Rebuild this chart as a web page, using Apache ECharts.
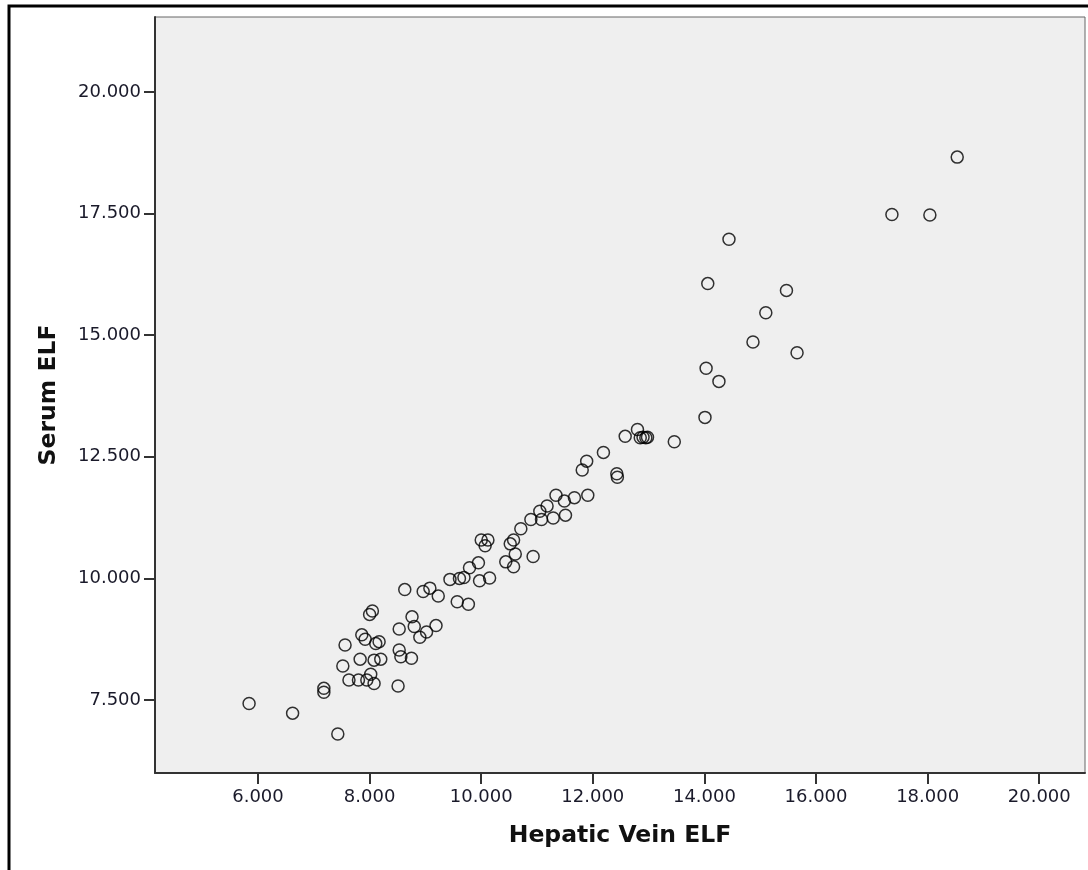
<!DOCTYPE html>
<html>
<head>
<meta charset="utf-8">
<title>Serum ELF vs Hepatic Vein ELF</title>
<script src="https://cdn.jsdelivr.net/npm/echarts@6.0.0/dist/echarts.min.js"></script>
<style>
  html, body { margin: 0; padding: 0; background: #fff; overflow: hidden; }
  #chart { width: 1088px; height: 870px; }
</style>
</head>
<body>
<div id="chart"></div>
<script>
// Hepatic Vein ELF (x) / Serum ELF (y)
var hepaticVein = [
  5.84, 6.62, 7.43, 7.18, 7.18, 7.52, 7.56, 7.63, 7.80, 7.95,
  8.02, 8.08, 7.83, 8.08, 8.20, 7.86, 7.92, 8.11, 8.17, 8.00,
  8.05, 8.51, 8.53, 8.53, 8.56, 8.75, 8.63, 8.76, 8.80, 8.90,
  9.02, 9.19, 8.96, 9.08, 9.23, 9.57, 9.77, 9.44, 9.61, 9.69,
  9.97, 10.15, 9.79, 9.95, 10.00, 10.12, 10.07, 10.44, 10.58, 10.52,
  10.58, 10.61, 10.93, 10.71, 10.89, 11.08, 11.05, 11.18, 11.29, 11.51,
  11.34, 11.49, 11.67, 11.91, 11.81, 11.89, 12.43, 12.44, 12.19, 12.58,
  12.80, 12.85, 12.90, 12.95, 12.98, 13.46, 14.01, 14.03, 14.26, 14.87,
  15.66, 15.10, 15.47, 14.06, 14.44, 17.36, 18.04, 18.53
];
var serum = [
  7.43, 7.23, 6.80, 7.74, 7.66, 8.20, 8.63, 7.91, 7.91, 7.91,
  8.03, 7.84, 8.34, 8.32, 8.34, 8.84, 8.75, 8.66, 8.70, 9.26,
  9.33, 7.79, 8.96, 8.53, 8.39, 8.36, 9.77, 9.21, 9.01, 8.79,
  8.90, 9.03, 9.73, 9.80, 9.64, 9.52, 9.47, 9.98, 10.00, 10.02,
  9.95, 10.01, 10.22, 10.32, 10.79, 10.79, 10.67, 10.34, 10.24, 10.71,
  10.79, 10.50, 10.45, 11.02, 11.21, 11.21, 11.38, 11.49, 11.24, 11.30,
  11.71, 11.59, 11.66, 11.71, 12.23, 12.41, 12.15, 12.08, 12.59, 12.92,
  13.06, 12.89, 12.90, 12.89, 12.90, 12.81, 13.31, 14.32, 14.05, 14.86,
  14.64, 15.46, 15.92, 16.06, 16.97, 17.48, 17.47, 18.66
];
var xTicks = [6, 8, 10, 12, 14, 16, 18, 20];
var yTicks = [7.5, 10, 12.5, 15, 17.5, 20];

var points = hepaticVein.map(function (v, i) { return [v, serum[i]]; });

var chart = echarts.init(document.getElementById('chart'));

var labelStyle = {
  color: '#1a1a2a',
  fontSize: 18,
  fontFamily: 'DejaVu Sans',
  formatter: function (v) { return v.toFixed(3); }
};
var nameStyle = { fontSize: 23.5, fontWeight: 'bold', color: '#111', fontFamily: 'DejaVu Sans' };

chart.setOption({
  backgroundColor: '#fff',
  animation: false,
  graphic: [{
    // outer black frame (top and left edges visible)
    type: 'rect',
    z: -1,
    shape: { x: 9, y: 6, width: 2000, height: 2000 },
    style: { fill: 'none', stroke: '#000', lineWidth: 3 }
  }],
  grid: {
    left: 155,
    top: 17,
    right: 3,
    bottom: 97,
    show: true,
    backgroundColor: '#efefef',
    borderColor: '#666',
    borderWidth: 1
  },
  xAxis: {
    type: 'value',
    min: 4.154,
    max: 20.82,
    name: 'Hepatic Vein ELF',
    nameLocation: 'middle',
    nameGap: 51,
    nameTextStyle: nameStyle,
    axisLine: { show: true, lineStyle: { color: '#333', width: 2 } },
    axisTick: { show: true, length: 11, customValues: xTicks, lineStyle: { color: '#333', width: 2 } },
    axisLabel: Object.assign({ margin: 15, customValues: xTicks }, labelStyle),
    splitLine: { show: false }
  },
  yAxis: {
    type: 'value',
    min: 6.0,
    max: 21.54,
    name: 'Serum ELF',
    nameLocation: 'middle',
    nameGap: 94,
    nameRotate: 90,
    nameTextStyle: nameStyle,
    axisLine: { show: true, lineStyle: { color: '#333', width: 2 } },
    axisTick: { show: true, length: 11, customValues: yTicks, lineStyle: { color: '#333', width: 2 } },
    axisLabel: Object.assign({ margin: 14, customValues: yTicks }, labelStyle),
    splitLine: { show: false }
  },
  series: [{
    type: 'scatter',
    data: points,
    symbol: 'circle',
    symbolSize: 12,
    itemStyle: {
      color: 'rgba(0,0,0,0)',
      borderColor: '#000',
      borderWidth: 1.5
    }
  }]
});
</script>
</body>
</html>
